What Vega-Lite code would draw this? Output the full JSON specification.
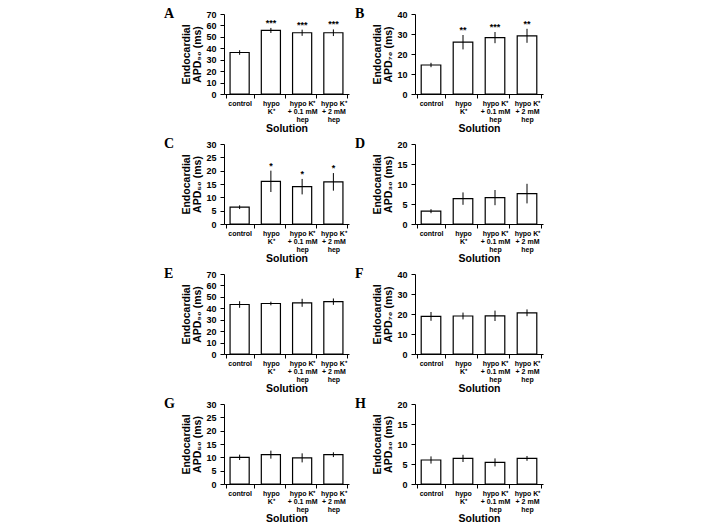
{
  "$schema": "https://vega.github.io/schema/vega-lite/v6.json",
  "background": "white",
  "padding": {"left": 163, "top": 7, "right": 5, "bottom": 2},
  "data": {"values": [
    {"panel": "A", "solution": "control", "mean": 36.3, "lo": 34.3, "hi": 38.3, "sig": ""},
    {"panel": "A", "solution": "hypo K⁺", "mean": 55.6, "lo": 53.4, "hi": 57.8, "sig": "***"},
    {"panel": "A", "solution": "hypo K⁺ + 0.1 mM hep", "mean": 53.6, "lo": 50.9, "hi": 56.3, "sig": "***"},
    {"panel": "A", "solution": "hypo K⁺ + 2 mM hep", "mean": 53.6, "lo": 50.7, "hi": 56.5, "sig": "***"},
    {"panel": "B", "solution": "control", "mean": 14.5, "lo": 13.4, "hi": 15.6, "sig": ""},
    {"panel": "B", "solution": "hypo K⁺", "mean": 25.9, "lo": 22.3, "hi": 29.5, "sig": "**"},
    {"panel": "B", "solution": "hypo K⁺ + 0.1 mM hep", "mean": 28.2, "lo": 25.4, "hi": 31.0, "sig": "***"},
    {"panel": "B", "solution": "hypo K⁺ + 2 mM hep", "mean": 29.1, "lo": 25.6, "hi": 32.6, "sig": "**"},
    {"panel": "C", "solution": "control", "mean": 6.3, "lo": 5.6, "hi": 7.0, "sig": ""},
    {"panel": "C", "solution": "hypo K⁺", "mean": 16.0, "lo": 12.0, "hi": 20.0, "sig": "*"},
    {"panel": "C", "solution": "hypo K⁺ + 0.1 mM hep", "mean": 14.0, "lo": 11.1, "hi": 16.9, "sig": "*"},
    {"panel": "C", "solution": "hypo K⁺ + 2 mM hep", "mean": 15.8, "lo": 12.5, "hi": 19.1, "sig": "*"},
    {"panel": "D", "solution": "control", "mean": 3.2, "lo": 2.7, "hi": 3.7, "sig": ""},
    {"panel": "D", "solution": "hypo K⁺", "mean": 6.35, "lo": 4.8, "hi": 7.9, "sig": ""},
    {"panel": "D", "solution": "hypo K⁺ + 0.1 mM hep", "mean": 6.6, "lo": 4.7, "hi": 8.5, "sig": ""},
    {"panel": "D", "solution": "hypo K⁺ + 2 mM hep", "mean": 7.6, "lo": 5.15, "hi": 10.05, "sig": ""},
    {"panel": "E", "solution": "control", "mean": 43.3, "lo": 40.4, "hi": 46.2, "sig": ""},
    {"panel": "E", "solution": "hypo K⁺", "mean": 44.2, "lo": 42.6, "hi": 45.8, "sig": ""},
    {"panel": "E", "solution": "hypo K⁺ + 0.1 mM hep", "mean": 44.8, "lo": 41.3, "hi": 48.3, "sig": ""},
    {"panel": "E", "solution": "hypo K⁺ + 2 mM hep", "mean": 45.8, "lo": 43.0, "hi": 48.6, "sig": ""},
    {"panel": "F", "solution": "control", "mean": 18.8, "lo": 16.6, "hi": 21.0, "sig": ""},
    {"panel": "F", "solution": "hypo K⁺", "mean": 19.0, "lo": 17.3, "hi": 20.7, "sig": ""},
    {"panel": "F", "solution": "hypo K⁺ + 0.1 mM hep", "mean": 19.1, "lo": 16.5, "hi": 21.7, "sig": ""},
    {"panel": "F", "solution": "hypo K⁺ + 2 mM hep", "mean": 20.6, "lo": 18.9, "hi": 22.3, "sig": ""},
    {"panel": "G", "solution": "control", "mean": 10.0, "lo": 9.0, "hi": 11.0, "sig": ""},
    {"panel": "G", "solution": "hypo K⁺", "mean": 11.0, "lo": 9.5, "hi": 12.5, "sig": ""},
    {"panel": "G", "solution": "hypo K⁺ + 0.1 mM hep", "mean": 9.8, "lo": 8.1, "hi": 11.5, "sig": ""},
    {"panel": "G", "solution": "hypo K⁺ + 2 mM hep", "mean": 11.0, "lo": 10.1, "hi": 11.9, "sig": ""},
    {"panel": "H", "solution": "control", "mean": 6.0, "lo": 5.1, "hi": 6.9, "sig": ""},
    {"panel": "H", "solution": "hypo K⁺", "mean": 6.4, "lo": 5.5, "hi": 7.3, "sig": ""},
    {"panel": "H", "solution": "hypo K⁺ + 0.1 mM hep", "mean": 5.4, "lo": 4.4, "hi": 6.4, "sig": ""},
    {"panel": "H", "solution": "hypo K⁺ + 2 mM hep", "mean": 6.4, "lo": 5.8, "hi": 7.0, "sig": ""}
  ]},
  "vconcat": [
    {"hconcat": [
      {"width": 125, "height": 80,
       "title": {"text": "A"},
       "transform": [{"filter": "datum.panel == 'A'"}],
       "encoding": {"x": {"field": "solution", "type": "nominal", "sort": null, "title": "Solution"}},
       "layer": [
         {"mark": {"type": "bar", "fill": "white", "stroke": "black", "strokeWidth": 1.2, "width": {"band": 0.68}},
          "encoding": {"y": {"field": "mean", "type": "quantitative", "scale": {"domain": [0, 70]}, "axis": {"values": [0,10,20,30,40,50,60,70]}, "title": ["Endocardial", "APD₉₀ (ms)"]}}},
         {"mark": {"type": "rule", "color": "black", "strokeWidth": 1},
          "encoding": {"y": {"field": "lo", "type": "quantitative", "axis": {"values": [0,10,20,30,40,50,60,70]}, "title": ["Endocardial", "APD₉₀ (ms)"]}, "y2": {"field": "hi"}}},
         {"mark": {"type": "text", "baseline": "bottom", "dy": 0, "font": "Liberation Sans", "fontWeight": "bold", "fontSize": 9},
          "encoding": {"y": {"field": "hi", "type": "quantitative", "axis": {"values": [0,10,20,30,40,50,60,70]}, "title": ["Endocardial", "APD₉₀ (ms)"]}, "text": {"field": "sig"}}}
       ]},
      {"width": 128, "height": 80,
       "title": {"text": "B"},
       "transform": [{"filter": "datum.panel == 'B'"}],
       "encoding": {"x": {"field": "solution", "type": "nominal", "sort": null, "title": "Solution"}},
       "layer": [
         {"mark": {"type": "bar", "fill": "white", "stroke": "black", "strokeWidth": 1.2, "width": {"band": 0.68}},
          "encoding": {"y": {"field": "mean", "type": "quantitative", "scale": {"domain": [0, 40]}, "axis": {"values": [0,10,20,30,40]}, "title": ["Endocardial", "APD₇₀ (ms)"]}}},
         {"mark": {"type": "rule", "color": "black", "strokeWidth": 1},
          "encoding": {"y": {"field": "lo", "type": "quantitative", "axis": {"values": [0,10,20,30,40]}, "title": ["Endocardial", "APD₇₀ (ms)"]}, "y2": {"field": "hi"}}},
         {"mark": {"type": "text", "baseline": "bottom", "dy": 0, "font": "Liberation Sans", "fontWeight": "bold", "fontSize": 9},
          "encoding": {"y": {"field": "hi", "type": "quantitative", "axis": {"values": [0,10,20,30,40]}, "title": ["Endocardial", "APD₇₀ (ms)"]}, "text": {"field": "sig"}}}
       ]}
    ]},
    {"hconcat": [
      {"width": 125, "height": 80,
       "title": {"text": "C"},
       "transform": [{"filter": "datum.panel == 'C'"}],
       "encoding": {"x": {"field": "solution", "type": "nominal", "sort": null, "title": "Solution"}},
       "layer": [
         {"mark": {"type": "bar", "fill": "white", "stroke": "black", "strokeWidth": 1.2, "width": {"band": 0.68}},
          "encoding": {"y": {"field": "mean", "type": "quantitative", "scale": {"domain": [0, 30]}, "axis": {"values": [0,5,10,15,20,25,30]}, "title": ["Endocardial", "APD₅₀ (ms)"]}}},
         {"mark": {"type": "rule", "color": "black", "strokeWidth": 1},
          "encoding": {"y": {"field": "lo", "type": "quantitative", "axis": {"values": [0,5,10,15,20,25,30]}, "title": ["Endocardial", "APD₅₀ (ms)"]}, "y2": {"field": "hi"}}},
         {"mark": {"type": "text", "baseline": "bottom", "dy": 0, "font": "Liberation Sans", "fontWeight": "bold", "fontSize": 9},
          "encoding": {"y": {"field": "hi", "type": "quantitative", "axis": {"values": [0,5,10,15,20,25,30]}, "title": ["Endocardial", "APD₅₀ (ms)"]}, "text": {"field": "sig"}}}
       ]},
      {"width": 128, "height": 80,
       "title": {"text": "D"},
       "transform": [{"filter": "datum.panel == 'D'"}],
       "encoding": {"x": {"field": "solution", "type": "nominal", "sort": null, "title": "Solution"}},
       "layer": [
         {"mark": {"type": "bar", "fill": "white", "stroke": "black", "strokeWidth": 1.2, "width": {"band": 0.68}},
          "encoding": {"y": {"field": "mean", "type": "quantitative", "scale": {"domain": [0, 20]}, "axis": {"values": [0,5,10,15,20]}, "title": ["Endocardial", "APD₃₀ (ms)"]}}},
         {"mark": {"type": "rule", "color": "black", "strokeWidth": 1},
          "encoding": {"y": {"field": "lo", "type": "quantitative", "axis": {"values": [0,5,10,15,20]}, "title": ["Endocardial", "APD₃₀ (ms)"]}, "y2": {"field": "hi"}}}
       ]}
    ]},
    {"hconcat": [
      {"width": 125, "height": 80,
       "title": {"text": "E"},
       "transform": [{"filter": "datum.panel == 'E'"}],
       "encoding": {"x": {"field": "solution", "type": "nominal", "sort": null, "title": "Solution"}},
       "layer": [
         {"mark": {"type": "bar", "fill": "white", "stroke": "black", "strokeWidth": 1.2, "width": {"band": 0.68}},
          "encoding": {"y": {"field": "mean", "type": "quantitative", "scale": {"domain": [0, 70]}, "axis": {"values": [0,10,20,30,40,50,60,70]}, "title": ["Endocardial", "APD₉₀ (ms)"]}}},
         {"mark": {"type": "rule", "color": "black", "strokeWidth": 1},
          "encoding": {"y": {"field": "lo", "type": "quantitative", "axis": {"values": [0,10,20,30,40,50,60,70]}, "title": ["Endocardial", "APD₉₀ (ms)"]}, "y2": {"field": "hi"}}}
       ]},
      {"width": 128, "height": 80,
       "title": {"text": "F"},
       "transform": [{"filter": "datum.panel == 'F'"}],
       "encoding": {"x": {"field": "solution", "type": "nominal", "sort": null, "title": "Solution"}},
       "layer": [
         {"mark": {"type": "bar", "fill": "white", "stroke": "black", "strokeWidth": 1.2, "width": {"band": 0.68}},
          "encoding": {"y": {"field": "mean", "type": "quantitative", "scale": {"domain": [0, 40]}, "axis": {"values": [0,10,20,30,40]}, "title": ["Endocardial", "APD₇₀ (ms)"]}}},
         {"mark": {"type": "rule", "color": "black", "strokeWidth": 1},
          "encoding": {"y": {"field": "lo", "type": "quantitative", "axis": {"values": [0,10,20,30,40]}, "title": ["Endocardial", "APD₇₀ (ms)"]}, "y2": {"field": "hi"}}}
       ]}
    ]},
    {"hconcat": [
      {"width": 125, "height": 80,
       "title": {"text": "G"},
       "transform": [{"filter": "datum.panel == 'G'"}],
       "encoding": {"x": {"field": "solution", "type": "nominal", "sort": null, "title": "Solution"}},
       "layer": [
         {"mark": {"type": "bar", "fill": "white", "stroke": "black", "strokeWidth": 1.2, "width": {"band": 0.68}},
          "encoding": {"y": {"field": "mean", "type": "quantitative", "scale": {"domain": [0, 30]}, "axis": {"values": [0,5,10,15,20,25,30]}, "title": ["Endocardial", "APD₅₀ (ms)"]}}},
         {"mark": {"type": "rule", "color": "black", "strokeWidth": 1},
          "encoding": {"y": {"field": "lo", "type": "quantitative", "axis": {"values": [0,5,10,15,20,25,30]}, "title": ["Endocardial", "APD₅₀ (ms)"]}, "y2": {"field": "hi"}}}
       ]},
      {"width": 128, "height": 80,
       "title": {"text": "H"},
       "transform": [{"filter": "datum.panel == 'H'"}],
       "encoding": {"x": {"field": "solution", "type": "nominal", "sort": null, "title": "Solution"}},
       "layer": [
         {"mark": {"type": "bar", "fill": "white", "stroke": "black", "strokeWidth": 1.2, "width": {"band": 0.68}},
          "encoding": {"y": {"field": "mean", "type": "quantitative", "scale": {"domain": [0, 20]}, "axis": {"values": [0,5,10,15,20]}, "title": ["Endocardial", "APD₃₀ (ms)"]}}},
         {"mark": {"type": "rule", "color": "black", "strokeWidth": 1},
          "encoding": {"y": {"field": "lo", "type": "quantitative", "axis": {"values": [0,5,10,15,20]}, "title": ["Endocardial", "APD₃₀ (ms)"]}, "y2": {"field": "hi"}}}
       ]}
    ]}
  ],
  "spacing": 3,
  "config": {
    "concat": {"spacing": 5},
    "view": {"stroke": null},
    "title": {"anchor": "start", "frame": "bounds", "orient": "top", "offset": -14, "font": "Liberation Serif", "fontSize": 14, "fontWeight": "bold", "color": "black", "baseline": "top", "dx": -18, "dy": -3},
    "axis": {"grid": false, "domainColor": "black", "tickColor": "black", "labelColor": "black", "titleColor": "black", "labelFont": "Liberation Sans", "titleFont": "Liberation Sans", "labelFontWeight": "bold", "titleFontWeight": "bold", "domainWidth": 1, "tickWidth": 1, "labelOverlap": false},
    "axisY": {"labelFontSize": 9, "titleFontSize": 10.5, "tickSize": 4, "labelPadding": 4, "titlePadding": 3, "titleLineHeight": 11},
    "axisX": {"labelFontSize": 7, "labelAngle": 0, "labelExpr": "datum.label == 'hypo K⁺' ? ['hypo', 'K⁺'] : datum.label == 'hypo K⁺ + 0.1 mM hep' ? ['hypo K⁺', '+ 0.1 mM', 'hep'] : datum.label == 'hypo K⁺ + 2 mM hep' ? ['hypo K⁺', '+ 2 mM', 'hep'] : datum.label", "labelLineHeight": 8, "labelBaseline": "top", "tickBand": "extent", "tickSize": 4, "titleFontSize": 10.5, "titlePadding": 1, "labelPadding": 1}
  }
}
